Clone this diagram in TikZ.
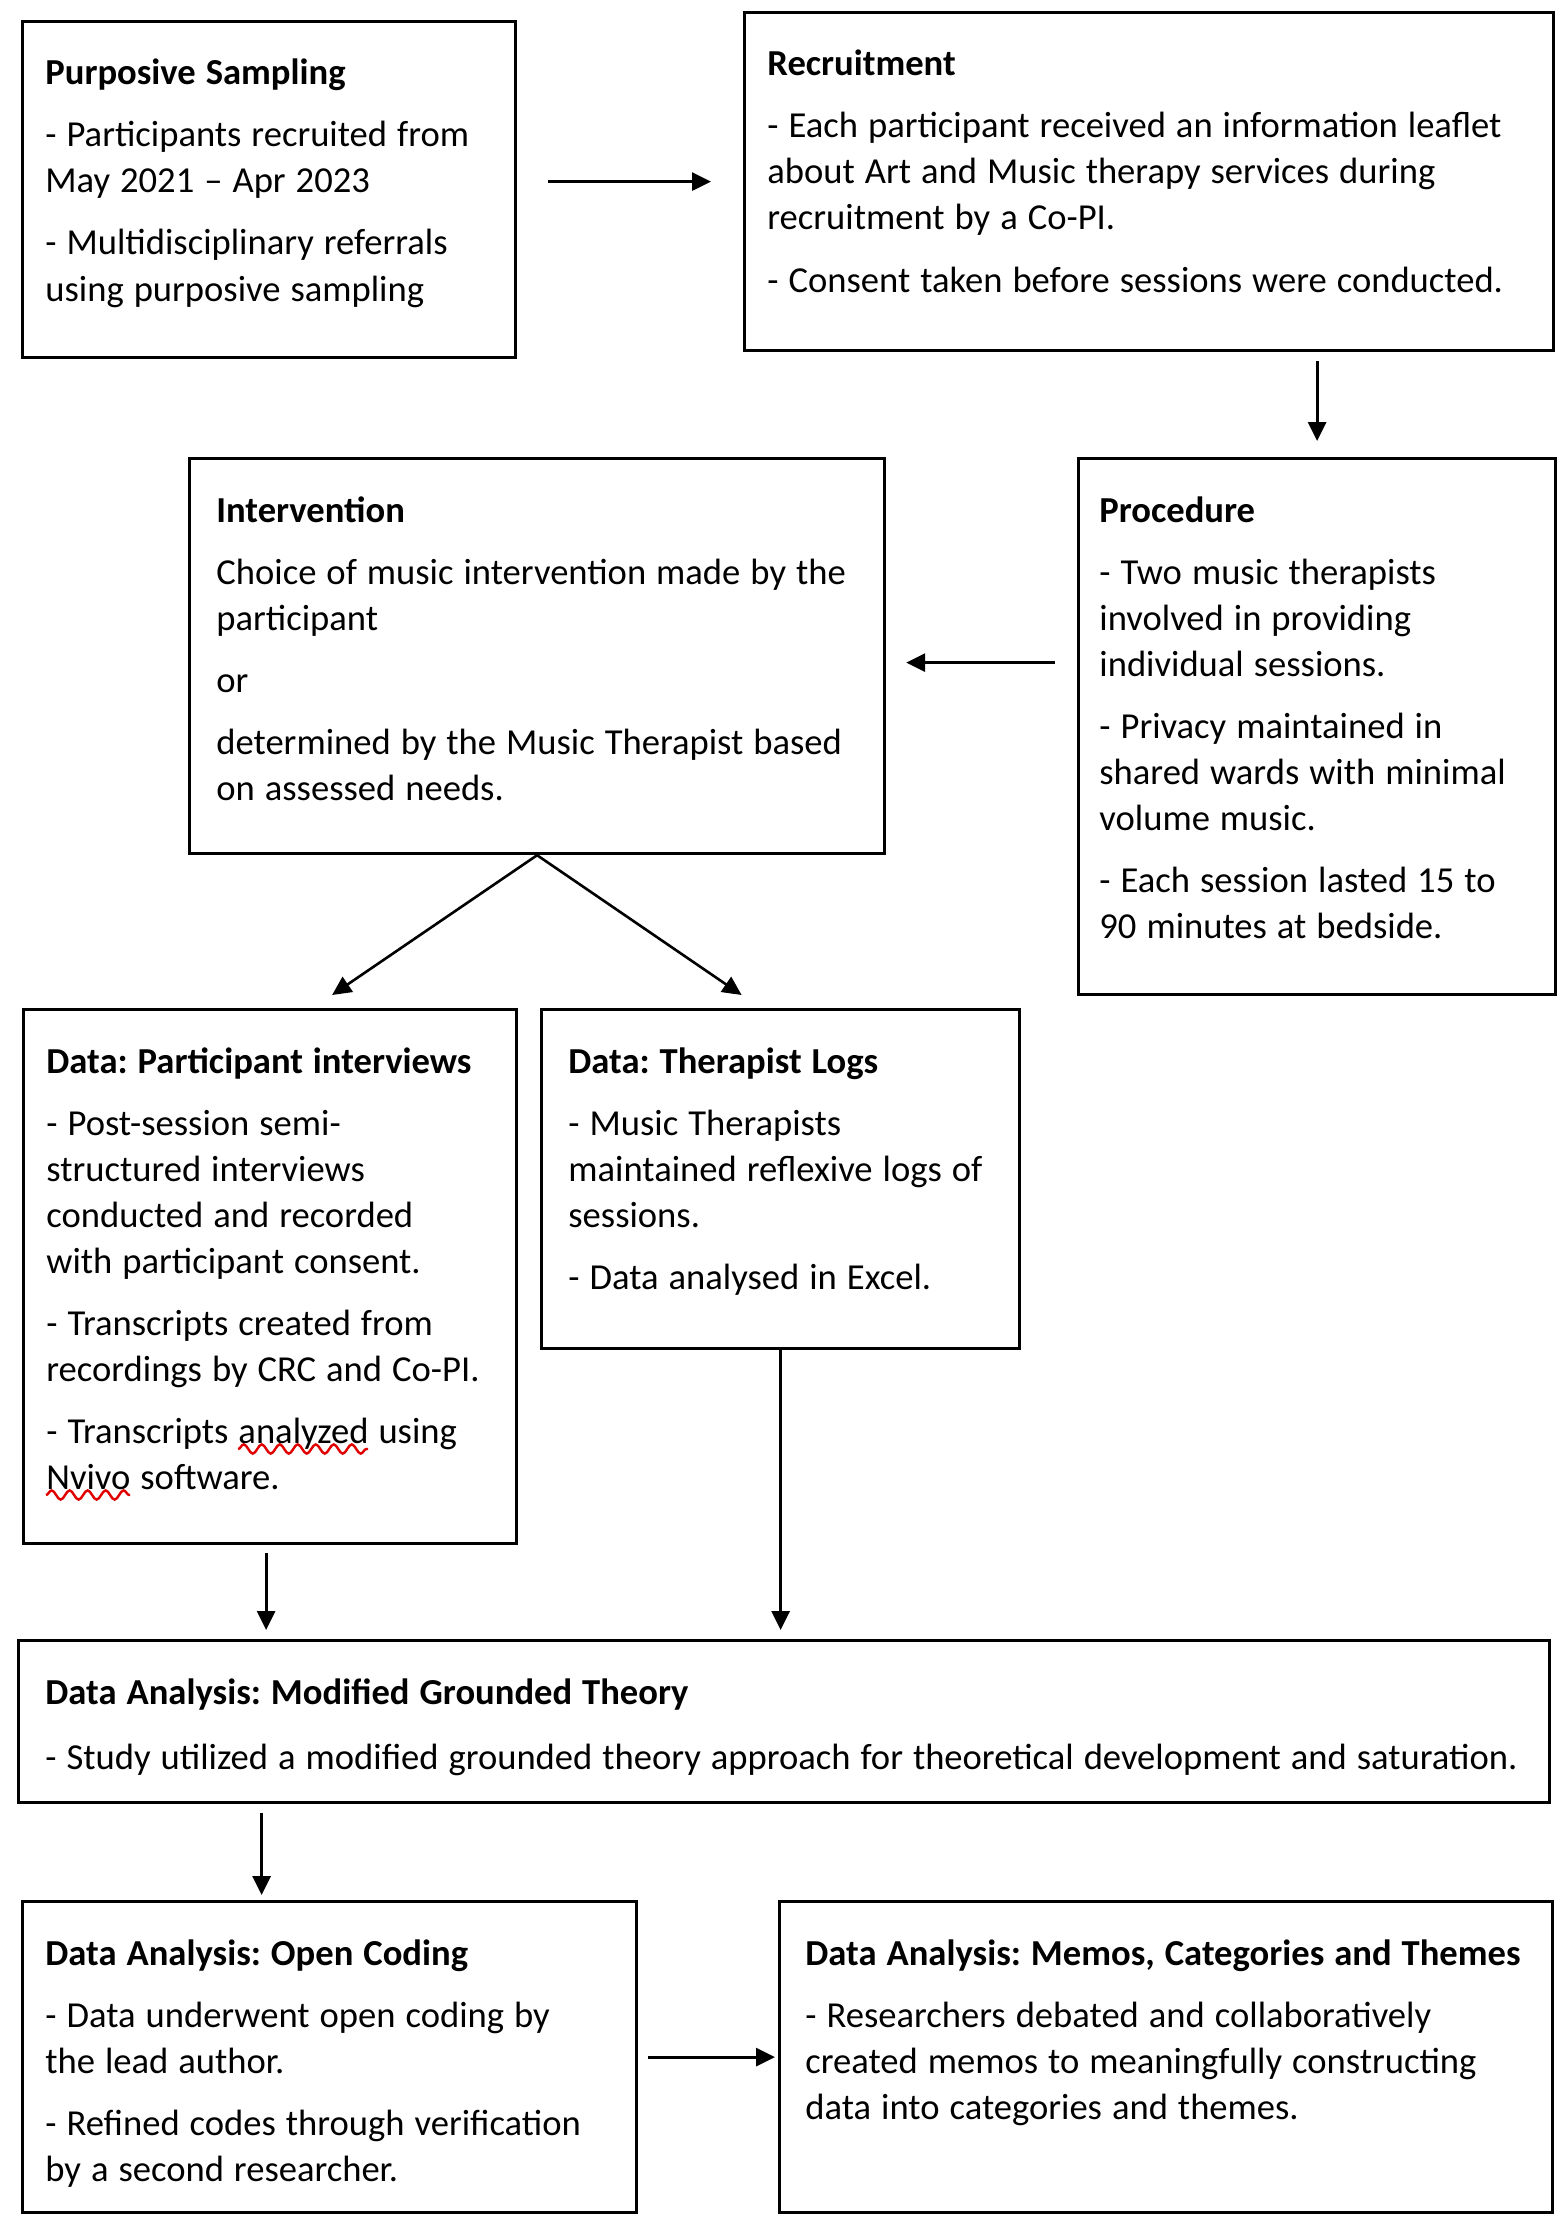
\documentclass[tikz,border=0pt]{standalone}
\usepackage{fontspec}
\setmainfont{Carlito}
\usetikzlibrary{arrows.meta,calc,decorations.pathmorphing}
\newcommand\mybodyfont{\fontsize{18.3pt}{23pt}\selectfont}
\newcommand\myspacing{\spaceskip=5pt\relax\xspaceskip=5pt\relax}
\newlength\sqa
\newlength\sqb
\newlength\sqc
\begin{document}
\frenchspacing
\mybodyfont
\settowidth\sqa{\myspacing - Transcripts }%
\settowidth\sqb{analyzed}%
\settowidth\sqc{Nvivo}%
\begin{tikzpicture}[x=0.5pt,y=-0.5pt,
  box/.style={draw=black, line width=1.6pt, rectangle, inner sep=0pt, anchor=north west},
  txt/.style={anchor=base west, inner sep=0pt, text width=775pt, align=left, font=\mybodyfont, execute at begin node=\myspacing},
  arr/.style={draw=black, line width=1.4pt, -{Triangle[length=9.5pt,width=9pt]}},
  darr/.style={arr, line width=1.3pt},
  squig/.style={draw=red!88!black, line width=1.2pt, decorate, decoration={snake, amplitude=2.3pt, segment length=9pt}}
]
\useasboundingbox[fill=white] (0,0) rectangle (1565,2232);

% boxes
\node[box, minimum width=246.5pt, minimum height=168pt] (ps) at (21,20) {};
\node[box, minimum width=404.5pt, minimum height=169pt] (rec) at (743,11) {};
\node[box, minimum width=347.5pt, minimum height=197.5pt] (int) at (188,457) {};
\node[box, minimum width=238.5pt, minimum height=268pt] (proc) at (1077,457) {};
\node[box, minimum width=246.5pt, minimum height=267pt] (pi) at (22,1008) {};
\node[box, minimum width=239pt, minimum height=169.5pt] (tl) at (540,1008) {};
\node[box, minimum width=765.5pt, minimum height=81pt] (mgt) at (17,1639) {};
\node[box, minimum width=307pt, minimum height=155.5pt] (oc) at (21,1900) {};
\node[box, minimum width=386.5pt, minimum height=155.5pt] (mem) at (778,1900) {};

% texts
\node[txt] (ps-t) at ($(ps.north west)+(24,65)$) {\textbf{Purposive Sampling}\\[8pt]
- Participants recruited from\\
May 2021 – Apr 2023\\[8pt]
- Multidisciplinary referrals\\
using purposive sampling};

\node[txt] (rec-t) at ($(rec.north west)+(24,65)$) {\textbf{Recruitment}\\[8pt]
- Each participant received an information leaflet\\
about Art and Music therapy services during\\
recruitment by a Co-PI.\\[8pt]
- Consent taken before sessions were conducted.};

\node[txt] (int-t) at ($(int.north west)+(28,65)$) {\textbf{Intervention}\\[8pt]
Choice of music intervention made by the\\
participant\\[8pt]
or\\[8pt]
determined by the Music Therapist based\\
on assessed needs.};

\node[txt] (proc-t) at ($(proc.north west)+(22,65)$) {\textbf{Procedure}\\[8pt]
- Two music therapists\\
involved in providing\\
individual sessions.\\[8pt]
- Privacy maintained in\\
shared wards with minimal\\
volume music.\\[8pt]
- Each session lasted 15 to\\
90 minutes at bedside.};

\node[txt] (pi-t) at ($(pi.north west)+(24,65)$) {\textbf{Data: Participant interviews}\\[8pt]
- Post-session semi-\\
structured interviews\\
conducted and recorded\\
with participant consent.\\[8pt]
- Transcripts created from\\
recordings by CRC and Co-PI.\\[8pt]
- Transcripts analyzed using\\
Nvivo software.};

\node[txt] (tl-t) at ($(tl.north west)+(28,65)$) {\textbf{Data: Therapist Logs}\\[8pt]
- Music Therapists\\
maintained reflexive logs of\\
sessions.\\[8pt]
- Data analysed in Excel.};

\node[txt] (mgt-t) at ($(mgt.north west)+(28,65)$) {\textbf{Data Analysis: Modified Grounded Theory}\\[9.5pt]
- Study utilized a modified grounded theory approach for theoretical development and saturation.};

\node[txt] (oc-t) at ($(oc.north west)+(24,65)$) {\textbf{Data Analysis: Open Coding}\\[8pt]
- Data underwent open coding by\\
the lead author.\\[8pt]
- Refined codes through verification\\
by a second researcher.};

\node[txt] (mem-t) at ($(mem.north west)+(27,65)$) {\textbf{Data Analysis: Memos, Categories and Themes}\\[8pt]
- Researchers debated and collaboratively\\
created memos to meaningfully constructing\\
data into categories and themes.};

% spell-check squiggles under "analyzed" and "Nvivo"
\coordinate (sq1) at ($(pi-t.base west)+(\sqa,-188pt)$);
\coordinate (sq2) at ($(pi-t.base west)+(0pt,-211pt)$);
\draw[squig] (sq1) -- ++(\sqb,0pt);
\draw[squig] (sq2) -- ++(\sqc,0pt);

% connectors
\draw[arr, shorten <=15.5pt, shorten >=16pt] (ps.east |- rec.west) -- (rec.west);
\draw[arr, shorten <=4.5pt, shorten >=8pt] (proc.north |- rec.south) -- (proc.north);
\coordinate (int-in) at ($(int.east)+(0,6.5)$);
\draw[arr, shorten <=11pt, shorten >=10pt] (int-in -| proc.west) -- (int-in);
\coordinate (pi-in) at ($(pi.north)+(62,-13)$);
\coordinate (tl-in) at ($(tl.north)+(-39,-13)$);
\draw[darr] (int.south) -- (pi-in);
\draw[darr] (int.south) -- (tl-in);
\coordinate (pi-out) at ($(pi.south)+(-4,0)$);
\draw[arr, shorten <=4pt, shorten >=4.5pt] (pi-out) -- (pi-out |- mgt.north);
\draw[arr, shorten >=4.5pt] (tl.south) -- (tl.south |- mgt.north);
\coordinate (oc-in) at ($(oc.north)+(-68,0)$);
\draw[arr, shorten <=4.5pt, shorten >=2.5pt] (oc-in |- mgt.south) -- (oc-in);
\draw[arr, shorten <=5pt, shorten >=1.5pt] (oc.east) -- (mem.west);
\end{tikzpicture}
\end{document}
